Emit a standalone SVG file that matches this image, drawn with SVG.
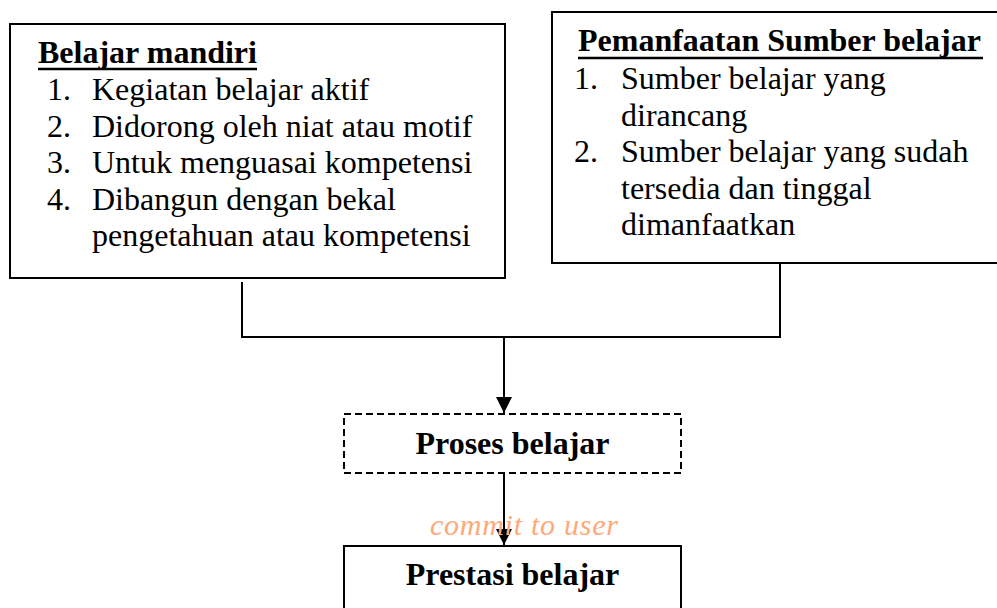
<svg xmlns="http://www.w3.org/2000/svg" width="997" height="608" viewBox="0 0 997 608">
<defs>
<style>
.box{fill:#fff;stroke:#000;stroke-width:2}
.dash{fill:#fff;stroke:#000;stroke-width:2;stroke-dasharray:7,4}
.t{font-family:"Liberation Serif","Times New Roman",serif;font-size:32px;fill:#000}
.b{font-weight:bold}
.ul{stroke:#000;stroke-width:2.5}
.con{fill:none;stroke:#000;stroke-width:2}
.wm{font-family:"Liberation Serif","Times New Roman",serif;font-size:30px;font-style:italic;fill:#ffa878}
</style>
<marker id="arr" viewBox="0 0 16 16" refX="16" refY="8" markerWidth="16" markerHeight="16" markerUnits="userSpaceOnUse" orient="auto">
<path d="M0,0 L16,8 L0,16 Z" fill="#000"/>
</marker>
</defs>
<rect width="997" height="608" fill="#fff"/>
<g id="belajar-mandiri">
<rect class="box" x="10" y="24" width="495" height="254"/>
<text class="t b" x="38" y="63">Belajar mandiri</text>
<line class="ul" x1="38" y1="69" x2="257" y2="69"/>
<text class="t" x="47" y="100">1.</text><text class="t" x="92" y="100">Kegiatan belajar aktif</text>
<text class="t" x="47" y="136.5">2.</text><text class="t" x="92" y="136.5">Didorong oleh niat atau motif</text>
<text class="t" x="47" y="173">3.</text><text class="t" x="92" y="173">Untuk menguasai kompetensi</text>
<text class="t" x="47" y="209.5">4.</text><text class="t" x="92" y="209.5">Dibangun dengan bekal</text>
<text class="t" x="92" y="246">pengetahuan atau kompetensi</text>
</g>
<g id="pemanfaatan">
<rect class="box" x="552" y="12" width="460" height="251"/>
<text class="t b" x="578" y="51">Pemanfaatan Sumber belajar</text>
<line class="ul" x1="578" y1="58" x2="983" y2="58"/>
<text class="t" x="574" y="89">1.</text><text class="t" x="621" y="89">Sumber belajar yang</text>
<text class="t" x="621" y="125.5">dirancang</text>
<text class="t" x="574" y="162">2.</text><text class="t" x="621" y="162">Sumber belajar yang sudah</text>
<text class="t" x="621" y="198.5">tersedia dan tinggal</text>
<text class="t" x="621" y="235">dimanfaatkan</text>
</g>
<g id="proses">
<rect class="dash" x="344" y="414" width="337" height="59"/>
<text class="t b" x="512.5" y="454" text-anchor="middle">Proses belajar</text>
</g>
<g id="prestasi">
<rect class="box" x="344" y="546" width="337" height="80"/>
<text class="t b" x="512.5" y="585" text-anchor="middle">Prestasi belajar</text>
</g>
<g id="connectors">
<polyline class="con" points="242,282 242,337 780,337 780,263"/>
<line class="con" x1="504" y1="337" x2="504" y2="413" marker-end="url(#arr)"/>
<line class="con" x1="504" y1="473" x2="504" y2="545" marker-end="url(#arr)"/>
</g>
<text class="wm" x="430" y="535" textLength="188" lengthAdjust="spacing">commit to user</text>
</svg>
